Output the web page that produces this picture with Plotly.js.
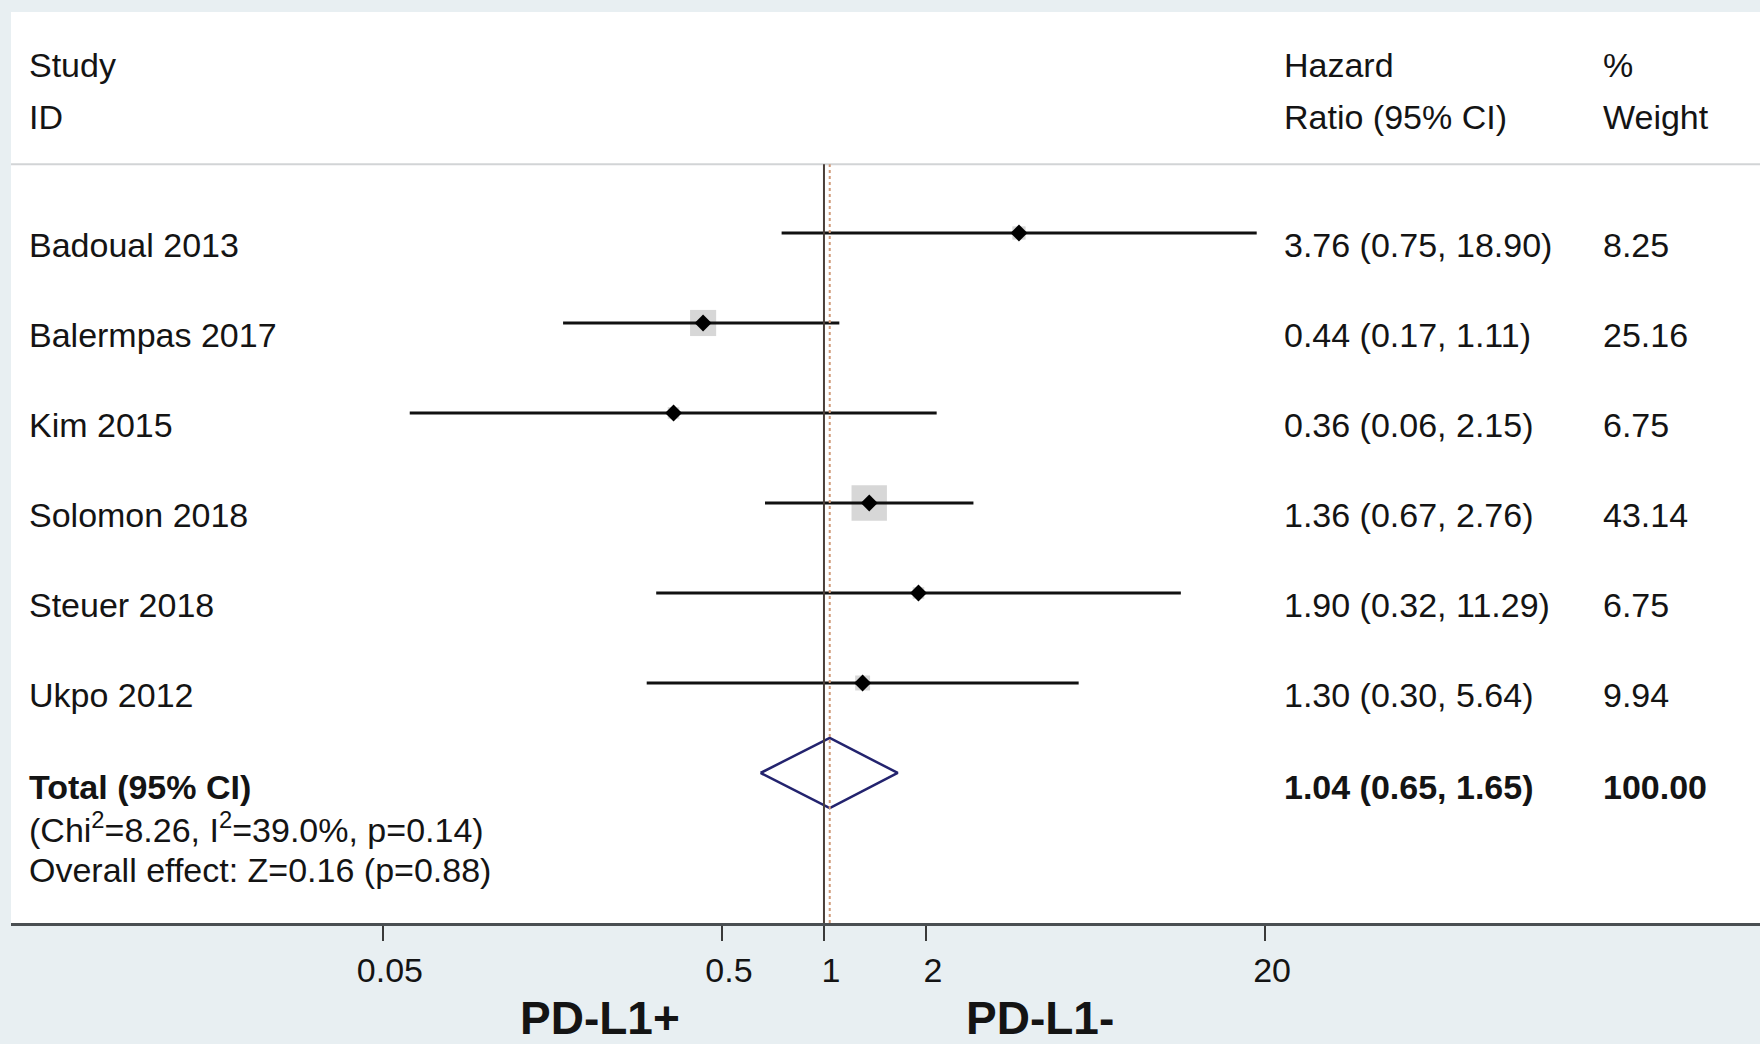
<!DOCTYPE html>
<html>
<head>
<meta charset="utf-8">
<script src="https://cdn.plot.ly/plotly-3.0.1.min.js"></script>
<style>
  html, body { margin: 0; padding: 0; background: #e8eff2; }
  #chart { width: 1760px; height: 1044px; }
</style>
</head>
<body>
<div id="chart"></div>
<script>
// ---- data ----
const studies = ['Badoual 2013', 'Balermpas 2017', 'Kim 2015', 'Solomon 2018', 'Steuer 2018', 'Ukpo 2012'];
const hr      = [3.76, 0.44, 0.36, 1.36, 1.90, 1.30];
const ciLow   = [0.75, 0.17, 0.06, 0.67, 0.32, 0.30];
const ciHigh  = [18.90, 1.11, 2.15, 2.76, 11.29, 5.64];
const weights = [8.25, 25.16, 6.75, 43.14, 6.75, 9.94];
const totalHR = 1.04;
const totalLow = 0.65;
const totalHigh = 1.65;
const totalWeight = 100.00;
const heterogeneityText = '(Chi<sup>2</sup>=8.26, I<sup>2</sup>=39.0%, p=0.14)';
const overallText = 'Overall effect: Z=0.16 (p=0.88)';
const tickVals = [0.05, 0.5, 1, 2, 20];
const tickText = ['0.05', '0.5', '1', '2', '20'];
const headerStudy = ['Study', 'ID'];
const headerHR = ['Hazard', 'Ratio (95% CI)'];
const headerWeight = ['%', 'Weight'];
const sideLabels = ['PD-L1+', 'PD-L1-'];

// ---- layout helpers ----
const FONT = 'Liberation Sans, Arial, Helvetica, sans-serif';
const TXT = '#141414';
const FS = 34;
const rows = studies.map((_, i) => i + 1);
const totalRow = studies.length + 1;

// CI lines
const ciX = [], ciY = [];
studies.forEach((_, i) => {
  ciX.push(ciLow[i], ciHigh[i], null);
  ciY.push(rows[i], rows[i], null);
});

const traces = [
  { type: 'scatter', mode: 'markers', x: hr, y: rows,
    marker: { symbol: 'square', color: '#c6c6c6',
              size: weights.map(w => Math.max(0, 6 * Math.sqrt(w) - 4)),
              line: { width: 0 } },
    hoverinfo: 'skip' },
  { type: 'scatter', mode: 'lines', x: ciX, y: ciY,
    line: { color: '#111111', width: 3 }, hoverinfo: 'skip', connectgaps: false },
  { type: 'scatter', mode: 'markers', x: hr, y: rows,
    marker: { symbol: 'diamond', color: '#000000', size: 13 }, hoverinfo: 'skip' },
  { type: 'scatter', mode: 'lines',
    x: [totalLow, totalHR, totalHigh, totalHR, totalLow],
    y: [totalRow, totalRow - 0.39, totalRow, totalRow + 0.39, totalRow],
    line: { color: '#23236e', width: 2.5 }, hoverinfo: 'skip' }
];

const annotations = [];
function ann(text, xp, y, yref, opts) {
  annotations.push(Object.assign({
    text: text, x: xp, y: y, xref: 'paper', yref: yref,
    xanchor: 'left', yanchor: 'middle', showarrow: false,
    font: { family: FONT, size: FS, color: TXT }
  }, opts || {}));
}
const xStudy = 0.0093, xHR = 0.7269, xW = 0.909;
// headers
ann(headerStudy[0], xStudy, 0.9418, 'paper');
ann(headerStudy[1], xStudy, 0.8847, 'paper');
ann(headerHR[0], xHR, 0.9418, 'paper');
ann(headerHR[1], xHR, 0.8847, 'paper');
ann(headerWeight[0], xW, 0.9418, 'paper');
ann(headerWeight[1], xW, 0.8847, 'paper');
// rows
studies.forEach((s, i) => {
  ann(s, xStudy, rows[i], 'y', { yshift: -12 });
  ann(`${hr[i].toFixed(2)} (${ciLow[i].toFixed(2)}, ${ciHigh[i].toFixed(2)})`, xHR, rows[i], 'y', { yshift: -12 });
  ann(weights[i].toFixed(2), xW, rows[i], 'y', { yshift: -12 });
});
// total
ann('<b>Total (95% CI)</b>', xStudy, totalRow, 'y', { yshift: -14 });
ann(`<b>${totalHR.toFixed(2)} (${totalLow.toFixed(2)}, ${totalHigh.toFixed(2)})</b>`, xHR, totalRow, 'y', { yshift: -14 });
ann(`<b>${totalWeight.toFixed(2)}</b>`, xW, totalRow, 'y', { yshift: -14 });
ann(heterogeneityText, xStudy, totalRow, 'y', { yshift: -55 });
ann(overallText, xStudy, totalRow, 'y', { yshift: -97 });
// side labels below axis
ann('<b>' + sideLabels[0] + '</b>', 0.3368, -0.1043, 'paper', { xanchor: 'center', font: { family: FONT, size: 46, color: TXT } });
ann('<b>' + sideLabels[1] + '</b>', 0.5883, -0.1043, 'paper', { xanchor: 'center', font: { family: FONT, size: 46, color: TXT } });

const sepY = 0.833;
const shapes = [
  { type: 'line', xref: 'paper', yref: 'paper', x0: 0, x1: 1, y0: sepY, y1: sepY,
    line: { color: '#d2d4d6', width: 2 } },
  { type: 'line', xref: 'x', yref: 'paper', x0: 1, x1: 1, y0: 0, y1: sepY,
    line: { color: '#4a3e38', width: 2 } },
  { type: 'line', xref: 'x', yref: 'paper', x0: totalHR, x1: totalHR, y0: 0, y1: sepY,
    line: { color: '#d09a78', width: 2, dash: 'dot' } }
];

const layout = {
  width: 1760, height: 1044,
  paper_bgcolor: '#e8eff2', plot_bgcolor: '#ffffff',
  margin: { l: 11, r: 0, t: 12, b: 121, pad: 0 },
  showlegend: false, hovermode: false,
  font: { family: FONT, color: TXT },
  xaxis: {
    type: 'log', range: [-2.398, 2.761], fixedrange: true,
    tickvals: tickVals, ticktext: tickText,
    ticks: 'outside', ticklen: 15, tickwidth: 2, tickcolor: '#3a3a3a',
    showline: true, linecolor: '#4a4f52', linewidth: 3,
    showgrid: false, zeroline: false,
    tickfont: { family: FONT, size: 34, color: TXT },
    ticklabelshift: 7
  },
  yaxis: {
    range: [8.667, -1.4556], visible: false, fixedrange: true,
    showgrid: false, zeroline: false
  },
  shapes: shapes,
  annotations: annotations
};

Plotly.newPlot('chart', traces, layout, { staticPlot: true, displayModeBar: false });
</script>
</body>
</html>
